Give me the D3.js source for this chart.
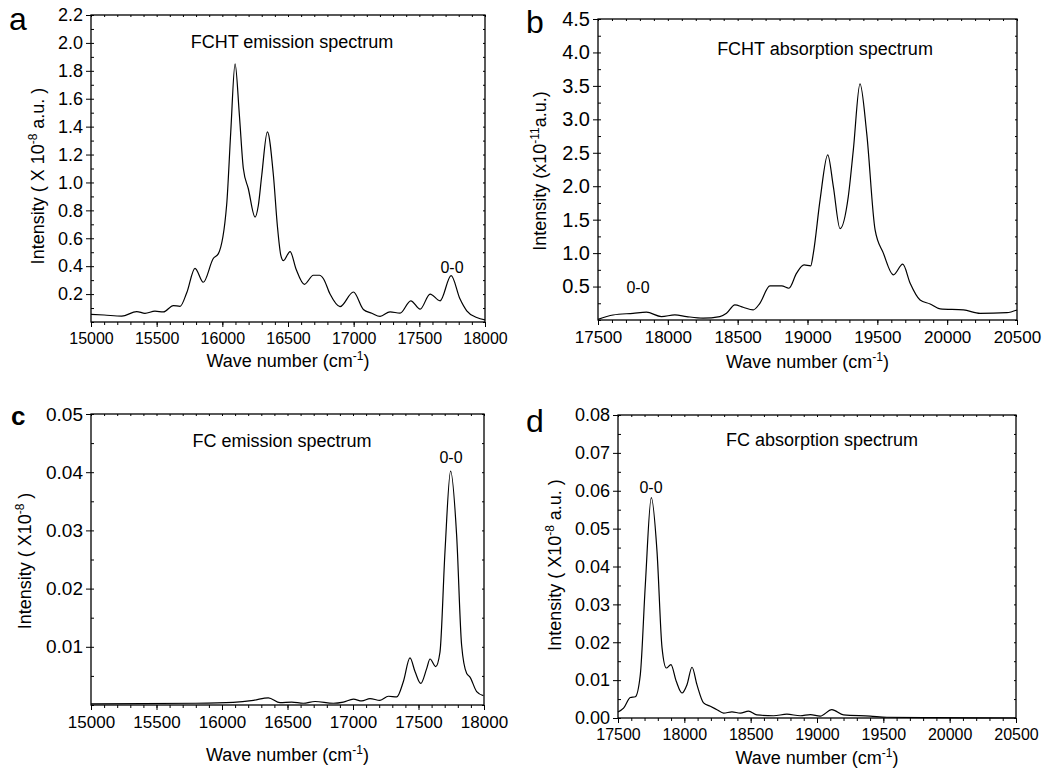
<!DOCTYPE html>
<html lang="en">
<head>
<meta charset="UTF-8">
<title>FCHT and FC spectra</title>
<script src="https://d3js.org/d3.v7.min.js"></script>
<style>
  body { margin: 0; background: #fff; }
  svg { display: block; font-family: Arial, "Liberation Sans", sans-serif; }
  .curve { fill: none; stroke: #000; stroke-width: 1.2px; }
  .frame { fill: none; stroke: #000; stroke-width: 1.3px; }
  .tick text { fill: #000; font-family: Arial, "Liberation Sans", sans-serif; }
  .tick line { stroke: #000; stroke-width: 1px; }
  .note { font-size: 18px; fill: #000; }
  .zero { font-size: 16px; fill: #000; }
  .axis-title { font-size: 18px; fill: #000; }
  .letter { font-size: 32px; fill: #000; }
</style>
</head>
<body>
<svg width="1045" height="773"></svg>
<script>
// a: FCHT emission
var fchtEmWave = [15000, 15100, 15234, 15348, 15411, 15487, 15551, 15627, 15678, 15729, 15792, 15855, 15931, 15970,
  16033, 16064, 16097, 16130, 16160, 16198, 16249, 16274, 16300, 16343, 16389, 16419, 16445, 16465, 16516, 16561,
  16625, 16693, 16740, 16770, 16820, 16896, 16998, 17074, 17138, 17201, 17277, 17353, 17435, 17506, 17582, 17658,
  17742, 17810, 17861, 17937, 18000];
var fchtEmInt = [0.055, 0.05, 0.042, 0.075, 0.062, 0.078, 0.072, 0.118, 0.112, 0.21, 0.385, 0.285, 0.455, 0.49,
  0.84, 1.36, 1.85, 1.48, 1.10, 0.955, 0.752, 0.835, 1.05, 1.363, 1.05, 0.69, 0.48, 0.44, 0.505, 0.38,
  0.27, 0.335, 0.335, 0.31, 0.2, 0.11, 0.215, 0.09, 0.063, 0.04, 0.073, 0.063, 0.152, 0.092, 0.2, 0.152,
  0.332, 0.164, 0.08, 0.032, 0.015];

// b: FCHT absorption
var fchtAbsWave = [17500, 17608, 17751, 17847, 17954, 18050, 18134, 18253, 18372, 18420, 18480, 18539, 18611, 18659,
  18731, 18815, 18867, 18922, 18975, 19023, 19042, 19090, 19145, 19185, 19233, 19292, 19328, 19376, 19424, 19484,
  19543, 19615, 19682, 19735, 19806, 19878, 19950, 20117, 20236, 20427, 20500];
var fchtAbsInt = [0.01, 0.075, 0.10, 0.117, 0.051, 0.076, 0.051, 0.027, 0.051, 0.10, 0.226, 0.19, 0.151, 0.25,
  0.51, 0.51, 0.475, 0.70, 0.823, 0.81, 1.0, 1.795, 2.47, 1.995, 1.366, 1.845, 2.54, 3.53, 2.79, 1.346,
  1.0, 0.675, 0.834, 0.55, 0.30, 0.24, 0.166, 0.151, 0.10, 0.11, 0.15];

// c: FC emission
var fcEmWave = [15000, 15800, 16085, 16240, 16354, 16443, 16532, 16621, 16710, 16850, 16926, 17003, 17067, 17130,
  17206, 17270, 17334, 17384, 17435, 17474, 17517, 17563, 17588, 17631, 17664, 17702, 17745, 17791, 17829, 17868,
  17893, 17944, 17995];
var fcEmInt = [0.0002, 0.0003, 0.00045, 0.0008, 0.00124, 0.0004, 0.0005, 0.0003, 0.0006, 0.0003, 0.0005, 0.001, 0.0007, 0.0011,
  0.0008, 0.0015, 0.0014, 0.004, 0.0081, 0.0057, 0.0037, 0.0063, 0.0079, 0.0066, 0.0091, 0.0263, 0.0402, 0.0292, 0.0103, 0.0054,
  0.0048, 0.0023, 0.0016];

// d: FC absorption
var fcAbsWave = [17500, 17542, 17593, 17630, 17668, 17706, 17751, 17794, 17832, 17864, 17899, 17939, 17982, 18020,
  18058, 18095, 18145, 18196, 18246, 18296, 18359, 18422, 18484, 18547, 18673, 18773, 18874, 18950, 19024, 19112,
  19200, 19401, 19527, 19900, 20500];
var fcAbsInt = [0.0016, 0.0026, 0.0054, 0.0056, 0.0114, 0.0352, 0.0582, 0.044, 0.0185, 0.0132, 0.0141, 0.0097, 0.0066, 0.0088,
  0.0134, 0.0088, 0.004, 0.0031, 0.0022, 0.0013, 0.0016, 0.0013, 0.0018, 0.0008, 0.0006, 0.001, 0.0006, 0.0009, 0.0005, 0.0022,
  0.0008, 0.0005, 0.0002, 0.0001, 0.0];

// tick labels
var emXTicks = [15000, 15500, 16000, 16500, 17000, 17500, 18000];
var absXTicks = [17500, 18000, 18500, 19000, 19500, 20000, 20500];
var aYTicks = [0.2, 0.4, 0.6, 0.8, 1.0, 1.2, 1.4, 1.6, 1.8, 2.0, 2.2];
var bYTicks = [0.5, 1.0, 1.5, 2.0, 2.5, 3.0, 3.5, 4.0, 4.5];
var cYTicks = [0.01, 0.02, 0.03, 0.04, 0.05];
var dYTicks = [0.00, 0.01, 0.02, 0.03, 0.04, 0.05, 0.06, 0.07, 0.08];

var svg = d3.select("svg");

var panels = [
  { letter: "a", lx: 9, ly: 30, lsize: 32,
    left: 91, right: 485, top: 15, bottom: 322,
    xDom: [15000, 18000], yDom: [0, 2.2], xTicks: emXTicks, yTicks: aYTicks, yMinorStep: 0.1, yFmt: ".1f",
    xFont: 16, yFont: 18,
    wave: fchtEmWave, inten: fchtEmInt,
    note: "FCHT emission spectrum", nx: 292, ny: 48,
    zx: 452, zy: 273,
    yt: ["Intensity ( X 10", "-8", " a.u. )"], ytx: 44, yty: 176, xty: 367 },
  { letter: "b", lx: 526, ly: 33, lsize: 32,
    left: 598, right: 1017, top: 19, bottom: 320,
    xDom: [17500, 20500], yDom: [0, 4.5], xTicks: absXTicks, yTicks: bYTicks, yMinorStep: 0.25, yFmt: ".1f",
    xFont: 17, yFont: 20,
    wave: fchtAbsWave, inten: fchtAbsInt,
    note: "FCHT absorption spectrum", nx: 825, ny: 55,
    zx: 638, zy: 293,
    yt: ["Intensity (x10", "-11", "a.u.)"], ytx: 546, yty: 171, xty: 368 },
  { letter: "c", lx: 11, ly: 425, lsize: 26, bold: true,
    left: 91, right: 484, top: 414, bottom: 705,
    xDom: [15000, 18000], yDom: [0, 0.05], xTicks: emXTicks, yTicks: cYTicks, yMinorStep: 0.005, yFmt: ".2f",
    xFont: 17, yFont: 19,
    wave: fcEmWave, inten: fcEmInt,
    note: "FC emission spectrum", nx: 282, ny: 447,
    zx: 451, zy: 463,
    yt: ["Intensity ( X10", "-8", " )"], ytx: 31, yty: 561, xty: 761 },
  { letter: "d", lx: 526, ly: 432, lsize: 32,
    left: 618, right: 1016, top: 415, bottom: 718,
    xDom: [17500, 20500], yDom: [0, 0.08], xTicks: absXTicks, yTicks: dYTicks, yMinorStep: 0.005, yFmt: ".2f",
    xFont: 16, yFont: 18,
    wave: fcAbsWave, inten: fcAbsInt,
    note: "FC absorption spectrum", nx: 822, ny: 446,
    zx: 651, zy: 493,
    yt: ["Intensity ( X10", "-8", " a.u. )"], ytx: 561, yty: 565, xty: 764 }
];

panels.forEach(drawPanel);

function drawPanel(p) {
  var x = d3.scaleLinear().domain(p.xDom).range([p.left, p.right]);
  var y = d3.scaleLinear().domain(p.yDom).range([p.bottom, p.top]);
  var g = svg.append("g");

  var xMinor = d3.range(p.xDom[0], p.xDom[1] + 1, 100);
  var yMinor = d3.range(p.yDom[0], p.yDom[1] + p.yMinorStep / 2, p.yMinorStep);

  // bottom axis
  g.append("g").attr("transform", "translate(0," + p.bottom + ")")
    .call(d3.axisBottom(x).tickValues(xMinor).tickSize(3).tickFormat(""));
  g.append("g").attr("transform", "translate(0," + p.bottom + ")")
    .call(d3.axisBottom(x).tickValues(p.xTicks).tickSize(5).tickPadding(6).tickFormat(d3.format("d")))
    .selectAll("text").style("font-size", p.xFont + "px");
  // top axis, ticks inward
  g.append("g").attr("transform", "translate(0," + p.top + ")")
    .call(d3.axisTop(x).tickValues(xMinor).tickSize(-2).tickFormat(""));
  // left axis
  g.append("g").attr("transform", "translate(" + p.left + ",0)")
    .call(d3.axisLeft(y).tickValues(yMinor).tickSize(-3).tickFormat(""));
  g.append("g").attr("transform", "translate(" + p.left + ",0)")
    .call(d3.axisLeft(y).tickValues(p.yTicks).tickSize(5).tickPadding(3).tickFormat(d3.format(p.yFmt)))
    .selectAll("text").style("font-size", p.yFont + "px");
  // right axis
  g.append("g").attr("transform", "translate(" + p.right + ",0)")
    .call(d3.axisRight(y).tickValues(yMinor).tickSize(-2).tickFormat(""));

  g.selectAll(".domain").remove();
  g.selectAll(".tick text").attr("fill", "#000");

  g.append("rect").attr("class", "frame")
    .attr("x", p.left).attr("y", p.top)
    .attr("width", p.right - p.left).attr("height", p.bottom - p.top);

  var pts = p.wave.map(function(w, i) { return [w, p.inten[i]]; });
  var line = d3.line()
    .x(function(d) { return x(d[0]); })
    .y(function(d) { return y(d[1]); })
    .curve(d3.curveMonotoneX);
  g.append("path").datum(pts).attr("class", "curve").attr("d", line);

  g.append("text").attr("class", "note")
    .attr("x", p.nx).attr("y", p.ny).attr("text-anchor", "middle").text(p.note);
  g.append("text").attr("class", "zero")
    .attr("x", p.zx).attr("y", p.zy).attr("text-anchor", "middle").text("0-0");

  g.append("text").attr("class", "letter")
    .attr("x", p.lx).attr("y", p.ly)
    .style("font-size", p.lsize + "px")
    .style("font-weight", p.bold ? "bold" : "normal")
    .text(p.letter);

  // y title
  var yt = g.append("text").attr("class", "axis-title")
    .attr("text-anchor", "middle")
    .attr("transform", "translate(" + p.ytx + "," + p.yty + ") rotate(-90)");
  yt.append("tspan").text(p.yt[0]);
  yt.append("tspan").attr("dy", -7).style("font-size", "12px").text(p.yt[1]);
  yt.append("tspan").attr("dy", 7).text(p.yt[2]);

  // x title
  var xt = g.append("text").attr("class", "axis-title")
    .attr("text-anchor", "middle")
    .attr("x", (p.left + p.right) / 2).attr("y", p.xty);
  xt.append("tspan").text("Wave number (cm");
  xt.append("tspan").attr("dy", -7).style("font-size", "12px").text("-1");
  xt.append("tspan").attr("dy", 7).text(")");
}
</script>
</body>
</html>
